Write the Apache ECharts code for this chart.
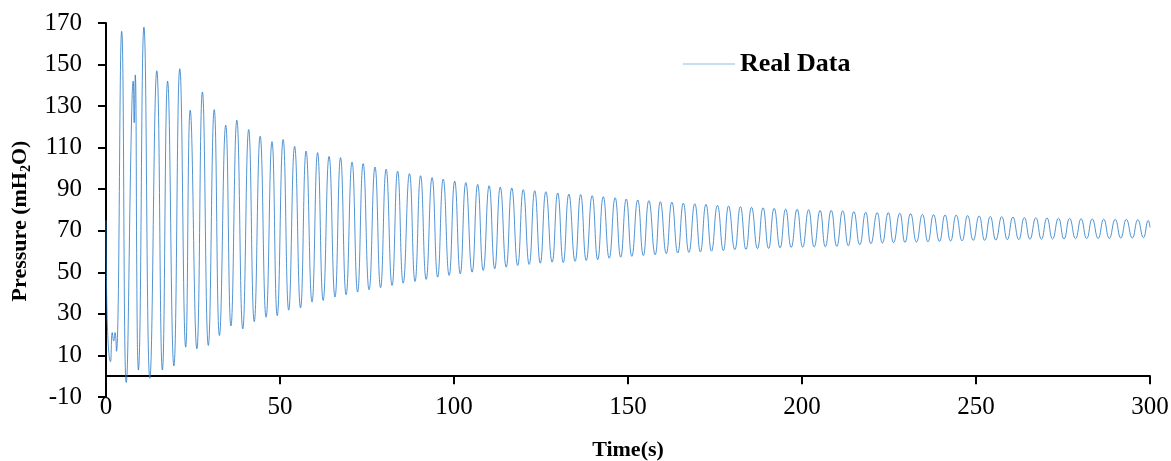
<!DOCTYPE html>
<html>
<head>
<meta charset="utf-8">
<script src="https://cdn.jsdelivr.net/npm/echarts@6/dist/echarts.min.js"></script>
<style>
  html, body { margin: 0; padding: 0; background: #fff; }
  #chart { width: 1171px; height: 461px; }
</style>
</head>
<body>
<div id="chart"></div>
<script>
// noisy start of the record (and the last sample at 300 s)
var otherTime = [0, 0.3, 1.3, 1.8, 2.2, 2.6, 3.0, 4.5, 5.8, 7.4, 7.8, 8.1, 8.4, 9.0, 9.3, 10.9, 12.6, 14.6, 16.2, 17.7, 19.5, 21.2, 22.9, 24.2, 300];
var otherPressure = [75, 30, 7, 21, 17, 21, 12, 166, -3, 128, 142, 122, 145, 18, 3, 168, -1, 147, 3, 142, 5, 148, 14, 128, 71.6];

// peaks of the swing
var peakTime = [27.7, 31.1, 34.4, 37.6, 41.0, 44.3, 47.7, 50.9, 54.2, 57.5, 60.8, 64.1, 67.4, 70.7, 73.9, 77.3, 80.5, 83.8, 87.2, 90.4,
  93.7, 96.9, 100.2, 103.4, 106.8, 110.1, 113.3, 116.6, 119.9, 123.2, 126.4, 129.8, 133.0, 136.4, 139.7, 142.9, 146.3, 149.5, 152.8, 156.0,
  159.3, 162.6, 165.9, 169.2, 172.4, 175.7, 178.9, 182.3, 185.5, 188.8, 192.0, 195.3, 198.6, 201.9, 205.2, 208.4, 211.7, 214.9, 218.3, 221.6,
  224.8, 228.1, 231.2, 234.6, 237.8, 241.1, 244.3, 247.6, 250.9, 254.1, 257.4, 260.6, 263.9, 267.2, 270.4, 273.7, 276.9, 280.2, 283.4, 286.7,
  290.0, 293.2, 296.5, 299.5];
var peakPressure = [136.8, 128.3, 120.8, 123.2, 118.7, 115.5, 112.9, 113.9, 110.6, 108.4, 107.6, 105.8, 105.2, 103.1, 102.3, 100.7, 99.7, 98.7, 97.5, 96.5,
  95.6, 94.9, 93.9, 93.2, 92.3, 91.7, 91.0, 90.6, 89.8, 89.3, 88.8, 88.2, 87.6, 87.4, 86.9, 86.4, 85.9, 85.3, 84.8, 84.5,
  84.0, 83.8, 83.3, 83.0, 82.7, 82.2, 81.9, 81.6, 81.3, 81.1, 80.8, 80.4, 80.3, 80.1, 79.8, 79.8, 79.6, 79.2, 78.9, 78.7,
  78.7, 78.4, 78.2, 77.9, 77.7, 77.6, 77.5, 77.3, 77.1, 76.9, 76.8, 76.6, 76.4, 76.3, 76.2, 76.1, 76.0, 75.8, 75.7, 75.6,
  75.5, 75.5, 75.3, 75.0];

// troughs of the swing
var troughTime = [26.1, 29.4, 32.6, 35.9, 39.3, 42.6, 46.0, 49.2, 52.5, 55.9, 59.2, 62.4, 65.8, 69.0, 72.3, 75.6, 78.9, 82.2, 85.4, 88.8,
  92.0, 95.3, 98.6, 101.8, 105.2, 108.4, 111.7, 115.0, 118.3, 121.6, 124.8, 128.2, 131.4, 134.8, 138.0, 141.3, 144.6, 147.9, 151.1, 154.4,
  157.8, 161.0, 164.3, 167.5, 170.8, 174.0, 177.4, 180.7, 183.9, 187.2, 190.4, 193.7, 196.9, 200.2, 203.5, 206.7, 210.0, 213.3, 216.6, 219.8,
  223.1, 226.3, 229.6, 232.9, 236.2, 239.5, 242.7, 246.0, 249.2, 252.5, 255.7, 259.0, 262.3, 265.5, 268.8, 272.0, 275.3, 278.6, 281.8, 285.1,
  288.3, 291.6, 294.9, 298.1];
var troughPressure = [13.2, 14.8, 19.6, 24.2, 22.8, 26.3, 28.4, 29.2, 31.8, 32.9, 35.7, 36.5, 38.1, 39.2, 40.5, 41.6, 42.6, 43.7, 44.8, 45.6,
  46.6, 47.7, 48.5, 49.3, 50.1, 50.9, 51.7, 52.5, 53.3, 53.8, 54.4, 54.9, 54.7, 55.3, 55.7, 56.1, 56.8, 57.3, 57.7, 58.1,
  58.5, 59.0, 59.3, 59.6, 59.8, 60.2, 60.5, 60.9, 61.0, 61.4, 61.5, 61.8, 62.0, 62.1, 62.2, 62.3, 62.5, 62.8, 63.3, 63.8,
  64.1, 64.3, 64.4, 64.6, 64.7, 64.9, 65.1, 65.2, 65.4, 65.4, 65.5, 65.7, 65.7, 65.9, 65.9, 66.0, 66.0, 66.2, 66.2, 66.3,
  66.3, 66.5, 66.5, 66.7];

var yTicks = [-10, 10, 30, 50, 70, 90, 110, 130, 150, 170];

var points = [];
function addPoints(ts, ps) {
  for (var i = 0; i < ts.length; i++) points.push([ts[i], ps[i]]);
}
addPoints(otherTime, otherPressure);
addPoints(peakTime, peakPressure);
addPoints(troughTime, troughPressure);
points.sort(function (a, b) { return a[0] - b[0]; });

var serif = "'Liberation Serif', 'Times New Roman', serif";

var myecharts = echarts.init(document.getElementById("chart"));
myecharts.setOption({
  animation: false,
  grid: {
    left: 106,
    right: 21,
    top: 23,
    bottom: 64,
    outerBoundsMode: "none"
  },
  legend: {
    data: ["Real Data"],
    left: 683,
    top: 51,
    padding: 0,
    icon: "rect",
    itemWidth: 52,
    itemHeight: 1,
    itemStyle: { color: "#8fbde6" },
    textStyle: {
      fontFamily: serif,
      fontWeight: "bold",
      fontSize: 26,
      color: "#000"
    }
  },
  xAxis: {
    type: "value",
    min: 0,
    max: 300,
    interval: 50,
    name: "Time(s)",
    nameLocation: "middle",
    nameGap: 42,
    nameTextStyle: {
      fontFamily: serif,
      fontWeight: "bold",
      fontSize: 22,
      color: "#000"
    },
    axisLine: {
      onZero: true,
      lineStyle: { color: "#000", width: 2 }
    },
    axisTick: {
      length: 8,
      lineStyle: { color: "#000", width: 2 }
    },
    axisLabel: {
      margin: -2,
      fontFamily: serif,
      fontSize: 25,
      color: "#000"
    },
    splitLine: { show: false }
  },
  yAxis: {
    type: "value",
    min: -10,
    max: 170,
    name: "{b|Pressure (mH}{s|2}{b|O)}",
    nameLocation: "middle",
    nameGap: 71,
    nameTextStyle: {
      padding: [0, 22, 0, 0],
      rich: {
        b: {
          fontFamily: serif,
          fontWeight: "bold",
          fontSize: 22,
          lineHeight: 26,
          color: "#000"
        },
        s: {
          fontFamily: serif,
          fontWeight: "bold",
          fontSize: 14,
          lineHeight: 14,
          verticalAlign: "bottom",
          color: "#000"
        }
      }
    },
    axisLine: {
      lineStyle: { color: "#000", width: 2 }
    },
    axisTick: {
      length: 8,
      customValues: yTicks,
      lineStyle: { color: "#000", width: 2 }
    },
    axisLabel: {
      margin: 24,
      customValues: yTicks,
      fontFamily: serif,
      fontSize: 25,
      color: "#000"
    },
    splitLine: { show: false }
  },
  series: [
    {
      name: "Real Data",
      type: "line",
      data: points,
      symbol: "none",
      smooth: 0.5,
      lineStyle: { color: "#2479c9", width: 0.8 },
      itemStyle: { color: "#2479c9" }
    }
  ]
});
</script>
</body>
</html>
